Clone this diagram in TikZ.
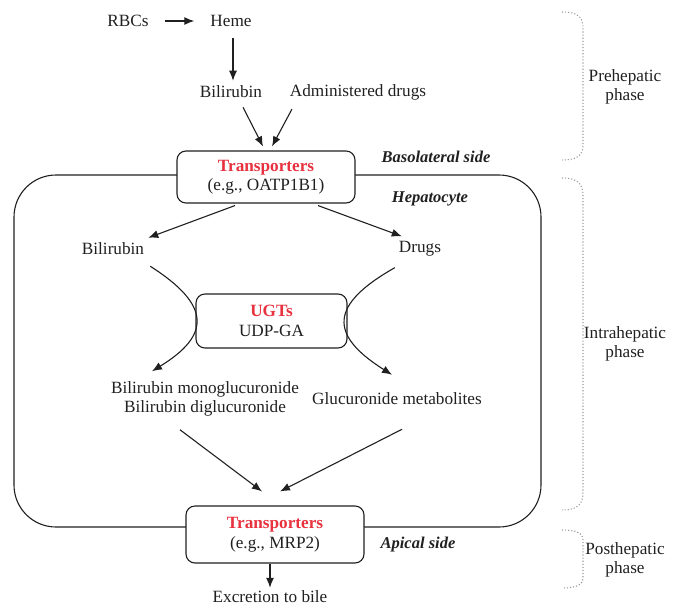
\documentclass[tikz,border=0pt]{standalone}
\usepackage{fontspec}
\setmainfont{Liberation Serif}
\usetikzlibrary{arrows.meta,calc}
\definecolor{ink}{HTML}{202020}
\definecolor{redt}{HTML}{E8323F}
\definecolor{brace}{HTML}{9A9A9A}
\tikzset{
  lbl/.style={text=ink,inner sep=1pt,font=\fontsize{17.2}{19.5}\selectfont},
  side/.style={lbl,font=\fontsize{16.5}{19}\selectfont\bfseries\itshape},
  box/.style={draw=ink,line width=1.1pt,rounded corners=9pt,fill=white,align=center,
    text=ink,font=\fontsize{17.2}{19.5}\selectfont,inner sep=2pt},
  arr/.style={draw=ink,line width=1.1pt,-{Latex[length=10pt,width=8pt]}},
  bracepath/.style={draw=brace,line width=1.1pt,dotted},
}
\begin{document}
\begin{tikzpicture}[x=1pt,y=-1pt]
\useasboundingbox (0,0) rectangle (676,607);
% hepatocyte
\node[draw=ink,line width=1.1pt,rounded corners=42pt,minimum width=527pt,minimum height=352pt,inner sep=0pt] (cell) at (277.5,351) {};
% prehepatic
\node[lbl] (rbc) at (128,21) {RBCs};
\node[lbl] (heme) at (231,21) {Heme};
\node[lbl] (bil1) at (231,92) {Bilirubin};
\node[lbl] (drug1) at (358,92) {Administered drugs};
\node[box,minimum width=178pt,minimum height=52pt] (tbox) at (266,177)
  {{\color{redt}\bfseries Transporters}\\(e.g., OATP1B1)};
\node[side] (baso) at (436,157) {Basolateral side};
\node[side] (hep) at (430,199) {Hepatocyte};
% intrahepatic
\node[lbl] (bil2) at (113,249) {Bilirubin};
\node[lbl] (drug2) at (420,249) {Drugs};
\node[box,minimum width=151pt,minimum height=54pt] (ubox) at (271.5,321)
  {{\color{redt}\bfseries UGTs}\\UDP-GA};
\node[lbl,align=center] (mono) at (205,399) {Bilirubin monoglucuronide\\Bilirubin diglucuronide};
\node[lbl] (gluc) at (397,399) {Glucuronide metabolites};
% posthepatic
\node[box,minimum width=178pt,minimum height=57pt] (bbox) at (275,534.5)
  {{\color{redt}\bfseries Transporters}\\(e.g., MRP2)};
\node[side] (api) at (418,545) {Apical side};
\node[lbl] (bile) at (270,597) {Excretion to bile};
% phases
\node[lbl,align=center] (pre) at (625,87) {Prehepatic\\phase};
\node[lbl,align=center] (intra) at (625,344) {Intrahepatic\\phase};
\node[lbl,align=center] (post) at (625,560) {Posthepatic\\phase};

% arrows
\draw[arr] ($(rbc.east)+(15,0)$) -- ($(heme.west)+(-15,0)$);
\draw[arr] ($(heme.south)+(2,10)$) -- ($(bil1.north)+(2,-4)$);
\draw[arr] ($(bil1.south)+(12,8)$) -- ($(tbox.north)+(-3,-4)$);
\draw[arr] ($(drug1.south)+(-66,8)$) -- ($(tbox.north)+(6,-4)$);
\draw[arr] ($(tbox.south)+(-31,2)$) -- ($(bil2.north east)+(3,-4)$);
\draw[arr] ($(tbox.south)+(52,2)$) -- ($(drug2.north west)+(4,-4)$);
\draw[arr] ($(bil2.south east)+(5,10)$) .. controls (211,305) and (211,335) .. ($(mono.north)+(-53,-9)$);
\draw[arr] ($(drug2.south west)+(-3,10)$) .. controls (329,305) and (329,335) .. ($(gluc.north)+(-5,-17)$);
\draw[arr] ($(mono.south)+(-25,12)$) -- ($(bbox.north)+(-13,-14)$);
\draw[arr] ($(gluc.south)+(5,23)$) -- ($(bbox.north)+(5,-14)$);
\draw[arr] (bile.north |- bbox.south) -- ($(bile.north)+(0,-2)$);

% braces
\draw[bracepath] (562,12) .. controls (578,12) and (583,17) .. (583,28) -- (583,145) .. controls (583,155) and (578,160) .. (562,160);
\draw[bracepath] (562,178) .. controls (578,178) and (583,184) .. (583,196) -- (583,492) .. controls (583,504) and (578,510) .. (562,510);
\draw[bracepath] (562,530) .. controls (576,530) and (583,533) .. (583,540) -- (583,578) .. controls (583,585) and (576,588) .. (562,588);
\end{tikzpicture}
\end{document}
